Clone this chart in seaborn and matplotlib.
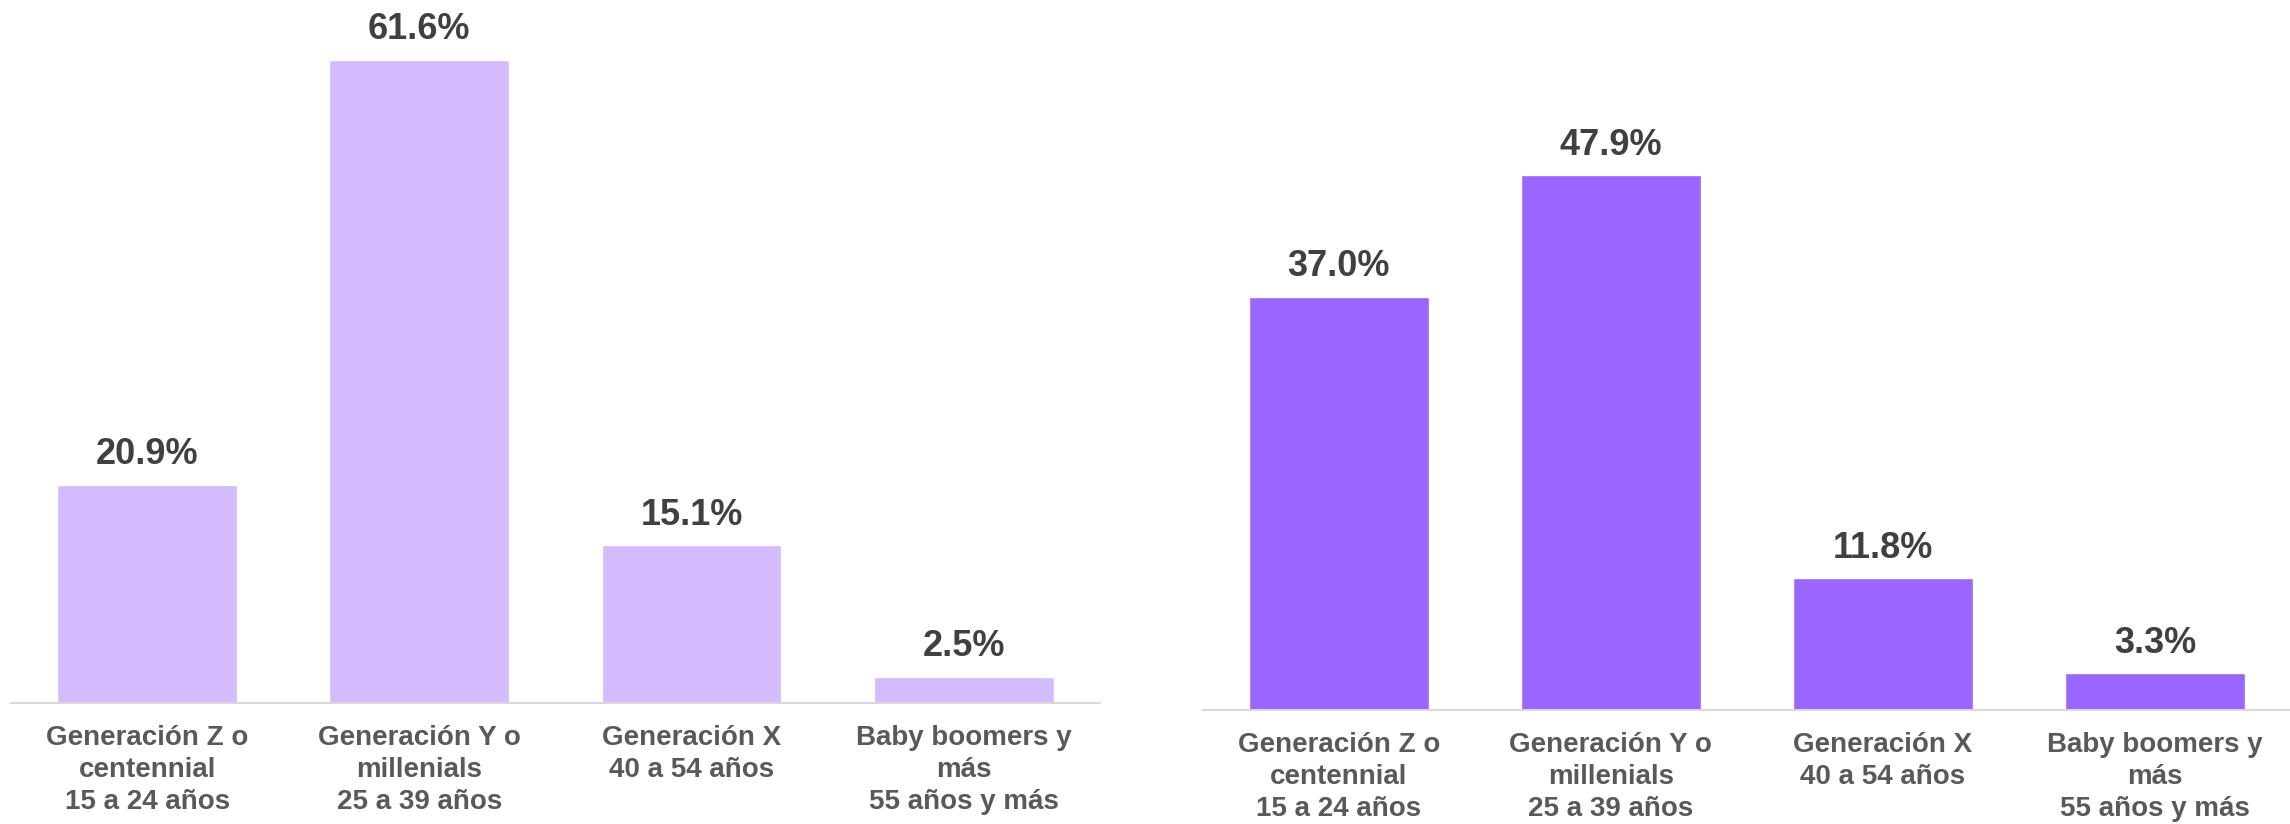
import matplotlib
matplotlib.use("Agg")
import matplotlib.pyplot as plt
import seaborn as sns
import pandas as pd

# data
categories = [
    "Generación Z o\ncentennial\n15 a 24 años",
    "Generación Y o\nmillenials\n25 a 39 años",
    "Generación X\n40 a 54 años",
    "Baby boomers y\nmás\n55 años y más",
]
left_values = [20.9, 61.6, 15.1, 2.5]
right_values = [37.0, 47.9, 11.8, 3.3]

left_color = "#D4BBFF"
right_color = "#9966FF"

sns.set_theme(style="white")
plt.rcParams["font.family"] = ["Liberation Sans", "Arial", "DejaVu Sans"]
plt.rcParams["font.weight"] = "bold"

fig = plt.figure(figsize=(22.9, 8.24), dpi=100)
ax_left = fig.add_axes([0.0048, 0.1468, 0.4755, 0.853])
ax_right = fig.add_axes([0.5253, 0.1383, 0.4751, 0.8617])


def draw_panel(ax, values, color, ytop):
    df = pd.DataFrame({"cat": categories, "val": values})
    sns.barplot(data=df, x="cat", y="val", color=color, width=0.66,
                saturation=1, ax=ax)
    ax.set_ylim(0, ytop)
    ax.set_xlim(-0.5, 3.5)
    ax.bar_label(ax.containers[0], labels=[f"{v:.1f}%" for v in values],
                 padding=9, fontsize=26, fontweight="bold", color="#404040")
    ax.set_xlabel("")
    ax.set_ylabel("")
    ax.set_yticks([])
    for side in ["top", "right", "left"]:
        ax.spines[side].set_visible(False)
    ax.spines["bottom"].set_color("#D9D9D9")
    ax.spines["bottom"].set_linewidth(1.5)
    ax.tick_params(axis="x", length=0, pad=16, labelsize=20, labelcolor="#595959")
    for lbl in ax.get_xticklabels():
        lbl.set_fontweight("bold")
        lbl.set_multialignment("center")
        lbl.set_linespacing(1.3)


draw_panel(ax_left, left_values, left_color, 67.3)
draw_panel(ax_right, right_values, right_color, 63.6)

fig.savefig("out.png", dpi=100, facecolor="white")
